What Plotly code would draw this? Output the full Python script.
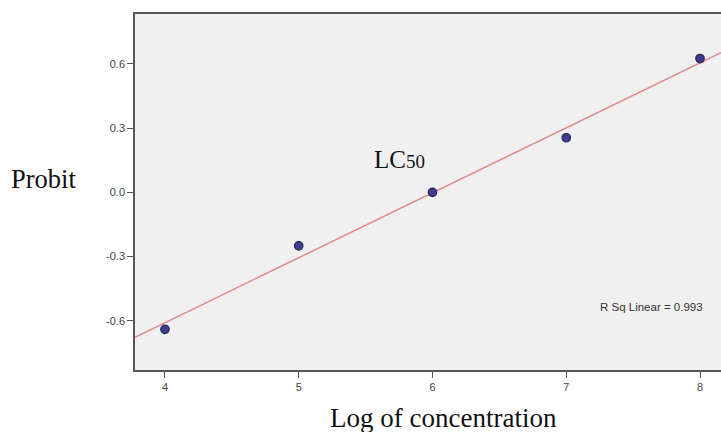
import numpy as np
import plotly.graph_objects as go

# Data
log_conc = [4, 5, 6, 7, 8]
probit = [-0.64, -0.25, 0.0, 0.255, 0.625]
x_ticks = [4, 5, 6, 7, 8]
y_ticks = [-0.6, -0.3, 0.0, 0.3, 0.6]
y_tick_text = ["-0.6", "-0.3", "0.0", "0.3", "0.6"]
r_sq_text = "R Sq Linear = 0.993"

x_range = [3.776, 8.157]
y_range = [-0.83, 0.833]

slope, intercept = np.polyfit(log_conc, probit, 1)
fit_x = np.array(x_range)
fit_y = slope * fit_x + intercept

fig = go.Figure()
fig.add_trace(go.Scatter(x=fit_x, y=fit_y, mode="lines",
                         line=dict(color="#e3898a", width=1.5),
                         showlegend=False, hoverinfo="skip"))
fig.add_trace(go.Scatter(x=log_conc, y=probit, mode="markers",
                         marker=dict(size=8.5, color="#3c3c90",
                                     line=dict(color="#24244f", width=1.2)),
                         showlegend=False))

tick_font = dict(family="Liberation Sans, Arial", size=11, color="#444444")
serif = "Liberation Serif, Times New Roman"

fig.update_layout(
    width=721, height=432,
    paper_bgcolor="white", plot_bgcolor="#f0f0f0",
    margin=dict(l=135, r=0, t=14, b=62),
    xaxis=dict(range=x_range, tickvals=x_ticks, showgrid=False, zeroline=False,
               showline=True, linecolor="#555555", linewidth=1.5, mirror=True,
               ticks="outside", ticklen=6, tickcolor="#555555", tickwidth=1,
               tickfont=tick_font),
    yaxis=dict(range=y_range, tickvals=y_ticks, ticktext=y_tick_text,
               showgrid=False, zeroline=False,
               showline=True, linecolor="#555555", linewidth=1.5, mirror=False,
               ticks="outside", ticklen=6, tickcolor="#555555", tickwidth=1,
               tickfont=tick_font),
    annotations=[
        dict(text="Probit", xref="paper", yref="paper", x=0, xshift=-91.5,
             y=0.5, yshift=13, showarrow=False, xanchor="center", yanchor="middle",
             font=dict(family=serif, size=26.5, color="#111111")),
        dict(text="Log of concentration", xref="x", yref="paper", x=6.086, y=0,
             yshift=-48, showarrow=False, xanchor="center", yanchor="middle",
             font=dict(family=serif, size=27, color="#111111")),
        dict(text="LC<span style='font-size:19px'>50</span>", xref="x", yref="y",
             x=5.545, y=0.155, showarrow=False, xanchor="left", yanchor="middle",
             font=dict(family=serif, size=25, color="#111111")),
        dict(text=r_sq_text, xref="x", yref="y", x=8.037, y=-0.534,
             showarrow=False, xanchor="right", yanchor="middle",
             font=dict(family="Liberation Sans, Arial", size=11.5, color="#333333")),
    ],
)

fig.write_html("out.html", config={"displayModeBar": False},
               post_script="document.body.style.margin='0px';")
